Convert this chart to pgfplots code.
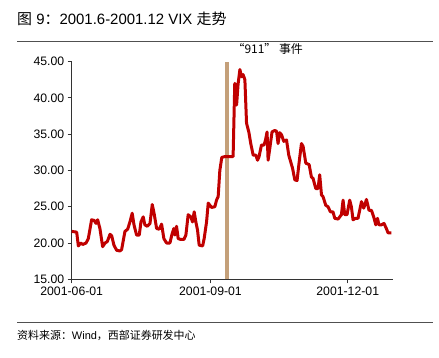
\documentclass[border=0pt]{standalone}
\usepackage{pgfplots}
\pgfplotsset{compat=1.18}
\usepackage{fontspec}
\setmainfont{Liberation Sans}
\newfontfamily\cjk{Noto Sans CJK SC}
\definecolor{vixred}{RGB}{192,0,0}
\definecolor{bartan}{RGB}{196,160,122}
\definecolor{rulegray}{RGB}{80,80,80}
\begin{document}
\begin{tikzpicture}[x=1bp,y=1bp]
\path[use as bounding box] (0,0) rectangle (439,-357);
\node[anchor=west,inner sep=0pt,font=\fontsize{15}{17}\selectfont] at (17,-18.5) {{\cjk 图} 9{\cjk ：}2001.6-2001.12 VIX {\cjk 走势}};
\draw[rulegray,line width=1.3bp] (17,-41.7) -- (433,-41.7);
\draw[rulegray,line width=1.3bp] (17,-322.7) -- (433,-322.7);
\node[anchor=west,inner sep=0pt,font=\fontsize{11}{13}\selectfont] at (17,-335.5) {{\cjk 资料来源：}Wind{\cjk ，西部证券研发中心}};
\begin{axis}[
  at={(71.7bp,-279.3bp)}, anchor=south west,
  width=321.3bp, height=217.8bp, scale only axis,
  xmin=0, xmax=213, ymin=15, ymax=45,
  axis x line*=bottom, axis y line*=left,
  axis line style={black!80, line width=0.9bp},
  tick style={black!80, line width=0.9bp},
  tick align=outside, major tick length=4bp,
  xtick={0,92,183},
  xticklabels={2001-06-01,2001-09-01,2001-12-01},
  ytick={15,20,25,30,35,40,45},
  yticklabel style={/pgf/number format/.cd, fixed, fixed zerofill, precision=2},
  /pgf/number format/assume math mode=true,
  tick label style={font=\fontsize{12.3}{14}\selectfont},
  clip=false,
]
\addplot[bartan, line width=3.2bp] coordinates {(103,15) (103,45)};
\addplot[vixred, line width=3bp, line join=round] coordinates {
(0,21.6) (3.3,21.5) (4.4,19.6) (6.0,20.0) (7.3,19.8) (9.5,20.0) (11.0,20.6)
(13.2,23.2) (15.0,23.1) (16.1,22.7) (17.2,23.2) (18.7,22.0) (20.5,19.5)
(22.1,20.0) (23.6,20.2) (25.4,21.2) (26.5,21.0) (28.0,19.7) (29.8,19.0)
(32.0,18.9) (33.1,19.1) (35.3,21.6) (37.1,21.9) (38.6,22.9) (40.1,24.1)
(41.3,22.5) (43.0,21.1) (44.8,21.1) (45.9,22.9) (47.4,23.6) (48.5,22.5)
(50.1,22.3) (51.9,22.7) (53.4,25.3) (54.7,24.0) (56.3,22.0) (58.0,21.9)
(59.6,22.6) (61.1,20.6) (62.9,20.0) (65.1,20.0) (66.6,21.3) (67.7,22.0)
(68.4,21.1) (69.5,22.3) (70.6,20.6) (72.2,20.5) (74.4,20.5) (75.7,21.1)
(77.2,23.9) (79.0,23.6) (80.1,22.9) (81.2,24.3) (82.3,22.9) (83.4,21.8)
(84.5,19.7) (86.8,19.6) (87.8,20.6) (89.4,22.9) (90.5,25.5) (92.7,24.9)
(94.9,25.0) (96.0,25.9) (97.1,26.4) (98.2,30.0) (99.5,31.8) (101.5,31.9)
(107.0,31.9) (108.1,42.0) (109.3,39.0) (110.3,41.9) (111.5,43.9) (112.6,42.9)
(113.6,43.2) (114.8,42.5) (115.9,36.5) (117.4,35.3) (118.7,33.7) (120.3,32.1)
(122.1,32.1) (123.2,31.4) (124.2,31.9) (125.8,33.5) (127.5,33.5) (128.5,34.2)
(129.5,35.3) (130.2,31.4) (131.3,33.0) (132.8,35.3) (134.6,35.5) (135.8,35.4)
(136.8,33.7) (137.9,35.2) (139.1,34.9) (140.6,34.0) (142.4,34.2) (143.9,32.1)
(146.4,30.3) (147.9,28.7) (149.4,28.6) (150.7,31.0) (152.3,33.7) (153.4,33.3)
(155.2,31.0) (157.4,30.8) (158.9,29.1) (160.0,28.9) (161.8,27.5) (163.3,27.5)
(164.4,29.4) (165.6,26.6) (166.6,26.4) (168.4,25.2) (169.9,25.0) (171.5,24.3)
(173.2,24.3) (174.4,23.4) (176.6,23.3) (178.8,23.9) (179.9,25.9) (181.0,23.9)
(182.5,23.9) (184.3,25.9) (185.4,25.0) (186.5,23.2) (188.1,23.4) (189.8,23.4)
(192.1,25.7) (193.6,24.8) (195.4,26.0) (197.1,24.5) (198.7,24.5) (200.2,23.6)
(201.6,22.5) (202.7,23.4) (203.7,22.5) (205.3,22.5) (207.0,22.7) (208.6,22.0)
(209.7,21.4) (211.9,21.4)
};
\node[anchor=west,inner sep=0pt,font=\fontsize{12}{14}\selectfont] at (axis cs:106.5,46.7) {{\cjk “911” 事件}};
\end{axis}
\end{tikzpicture}
\end{document}
